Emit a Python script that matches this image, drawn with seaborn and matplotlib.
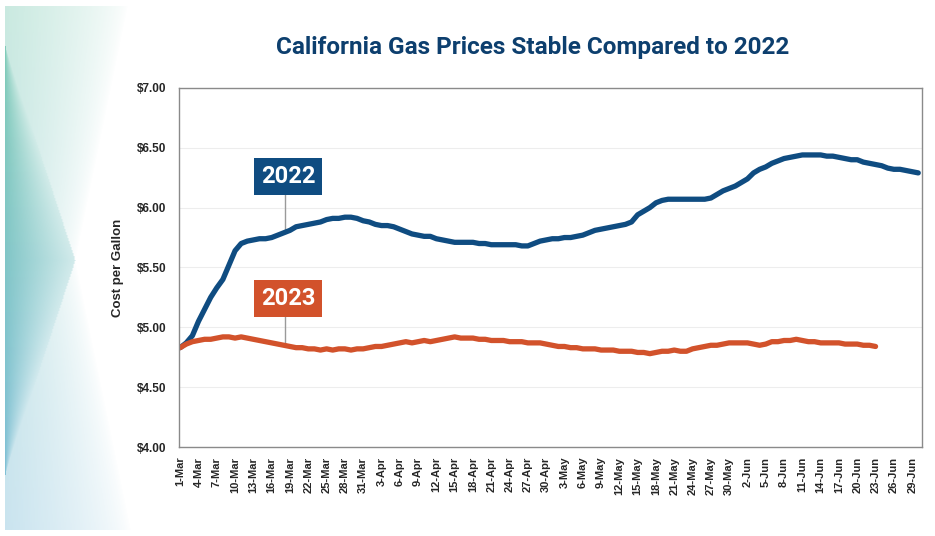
import numpy as np
import pandas as pd
import matplotlib
matplotlib.use("Agg")
import matplotlib.pyplot as plt
import seaborn as sns

# daily average price, index 0 = 1-Mar
PRICES_2022 = [
    4.83, 4.87, 4.93, 5.05, 5.15, 5.25, 5.33, 5.40, 5.52, 5.64,
    5.70, 5.72, 5.73, 5.74, 5.74, 5.75, 5.77, 5.79, 5.81, 5.84,
    5.85, 5.86, 5.87, 5.88, 5.90, 5.91, 5.91, 5.92, 5.92, 5.91,
    5.89, 5.88, 5.86, 5.85, 5.85, 5.84, 5.82, 5.80, 5.78, 5.77,
    5.76, 5.76, 5.74, 5.73, 5.72, 5.71, 5.71, 5.71, 5.71, 5.70,
    5.70, 5.69, 5.69, 5.69, 5.69, 5.69, 5.68, 5.68, 5.70, 5.72,
    5.73, 5.74, 5.74, 5.75, 5.75, 5.76, 5.77, 5.79, 5.81, 5.82,
    5.83, 5.84, 5.85, 5.86, 5.88, 5.94, 5.97, 6.00, 6.04, 6.06,
    6.07, 6.07, 6.07, 6.07, 6.07, 6.07, 6.07, 6.08, 6.11, 6.14,
    6.16, 6.18, 6.21, 6.24, 6.29, 6.32, 6.34, 6.37, 6.39, 6.41,
    6.42, 6.43, 6.44, 6.44, 6.44, 6.44, 6.43, 6.43, 6.42, 6.41,
    6.40, 6.40, 6.38, 6.37, 6.36, 6.35, 6.33, 6.32, 6.32, 6.31,
    6.30, 6.29,
]
PRICES_2023 = [
    4.83, 4.86, 4.88, 4.89, 4.90, 4.90, 4.91, 4.92, 4.92, 4.91,
    4.92, 4.91, 4.90, 4.89, 4.88, 4.87, 4.86, 4.85, 4.84, 4.83,
    4.83, 4.82, 4.82, 4.81, 4.82, 4.81, 4.82, 4.82, 4.81, 4.82,
    4.82, 4.83, 4.84, 4.84, 4.85, 4.86, 4.87, 4.88, 4.87, 4.88,
    4.89, 4.88, 4.89, 4.90, 4.91, 4.92, 4.91, 4.91, 4.91, 4.90,
    4.90, 4.89, 4.89, 4.89, 4.88, 4.88, 4.88, 4.87, 4.87, 4.87,
    4.86, 4.85, 4.84, 4.84, 4.83, 4.83, 4.82, 4.82, 4.82, 4.81,
    4.81, 4.81, 4.80, 4.80, 4.80, 4.79, 4.79, 4.78, 4.79, 4.80,
    4.80, 4.81, 4.80, 4.80, 4.82, 4.83, 4.84, 4.85, 4.85, 4.86,
    4.87, 4.87, 4.87, 4.87, 4.86, 4.85, 4.86, 4.88, 4.88, 4.89,
    4.89, 4.90, 4.89, 4.88, 4.88, 4.87, 4.87, 4.87, 4.87, 4.86,
    4.86, 4.86, 4.85, 4.85, 4.84,
]
TICK_LABELS = [
    "1-Mar", "4-Mar", "7-Mar", "10-Mar", "13-Mar", "16-Mar", "19-Mar",
    "22-Mar", "25-Mar", "28-Mar", "31-Mar", "3-Apr", "6-Apr", "9-Apr",
    "12-Apr", "15-Apr", "18-Apr", "21-Apr", "24-Apr", "27-Apr", "30-Apr",
    "3-May", "6-May", "9-May", "12-May", "15-May", "18-May", "21-May",
    "24-May", "27-May", "30-May", "2-Jun", "5-Jun", "8-Jun", "11-Jun",
    "14-Jun", "17-Jun", "20-Jun", "23-Jun", "26-Jun", "29-Jun",
]
Y_TICKS = [4.0, 4.5, 5.0, 5.5, 6.0, 6.5, 7.0]

BLUE = "#0f4c81"
ORANGE = "#d2522b"
TITLE_BLUE = "#0d3f6e"

sns.set_style("white")
plt.rcParams["font.family"] = ["Liberation Sans", "DejaVu Sans"]

df = pd.concat([
    pd.DataFrame({"day": range(len(PRICES_2022)), "price": PRICES_2022, "year": "2022"}),
    pd.DataFrame({"day": range(len(PRICES_2023)), "price": PRICES_2023, "year": "2023"}),
])

fig = plt.figure(figsize=(9.35, 5.36), dpi=100)

# decorative gradient panel on the left
deco = fig.add_axes([0.005, 0.0, 0.135, 1.0])
h, w = 536, 126
vv, uu = np.mgrid[0:h, 0:w]
u = uu / w
v = vv / h
top_col = np.array([0.45, 0.78, 0.68])
bot_col = np.array([0.45, 0.72, 0.84])
rgb = top_col[None, None, :] * (1 - v[..., None]) + bot_col[None, None, :] * v[..., None]
# outer light region bounded by (1,0)-(0.55,0.485)-(1,1)
bound_light = 0.55 + 0.45 * np.abs(v - 0.485) / 0.515
light = (u < bound_light) * 0.38 * np.clip(1 - u / bound_light, 0, 1) ** 0.7
# inner dark triangle (0,0.085)-(0.55,0.485)-(0,0.915)
bound_dark = 0.55 * (1 - np.abs(v - 0.485) / 0.40)
dark = (u < bound_dark) * 0.9 * np.clip(1 - 0.65 * u / np.maximum(bound_dark, 1e-3), 0, 1)
alpha = np.clip(np.maximum(light, dark), 0, 1)
alpha[:6, :] = 0
alpha[-6:, :] = 0
img = np.dstack([rgb, alpha])
deco.imshow(img, aspect="auto", interpolation="bilinear")
deco.axis("off")

ax = fig.add_axes([0.1914, 0.166, 0.7946, 0.670])
sns.lineplot(data=df, x="day", y="price", hue="year",
             palette={"2022": BLUE, "2023": ORANGE},
             linewidth=3.8, legend=False, ax=ax)

ax.set_xlim(-0.2, 121.6)
ax.set_ylim(4.0, 7.0)
ax.set_yticks(Y_TICKS)
ax.set_yticklabels([f"${t:.2f}" for t in Y_TICKS], fontsize=8.5, fontweight="bold")
ax.set_xticks(range(0, 3 * len(TICK_LABELS), 3))
ax.set_xticklabels(TICK_LABELS, rotation=90, fontsize=8, fontweight="bold")
ax.tick_params(axis="y", length=0, pad=9)
ax.tick_params(axis="x", length=0, pad=7)
ax.set_xlabel("")
ax.set_ylabel("Cost per Gallon", fontsize=9.5, fontweight="bold", labelpad=9)
ax.yaxis.grid(True, color="#ededed", linewidth=0.8)
ax.set_axisbelow(True)
for s in ax.spines.values():
    s.set_color("#8a8a8a")
    s.set_linewidth(1.0)

# year callouts
cond = ["Roboto", "Liberation Sans", "DejaVu Sans"]
for label, col, box_y, line_top, line_bot in [
    ("2022", BLUE, 6.26, 6.13, 5.80),
    ("2023", ORANGE, 5.24, 5.11, 4.84),
]:
    ax.plot([17.2, 17.2], [line_bot, line_top], color="#9a9a9a", linewidth=1.0, zorder=1)
    ax.text(17.7, box_y, label, ha="center", va="center", color="white",
            fontsize=17, fontweight="bold", family=cond,
            bbox=dict(boxstyle="square,pad=0.28", facecolor=col, edgecolor="none"))

fig.text(0.570, 0.912, "California Gas Prices Stable Compared to 2022",
         ha="center", va="center", color=TITLE_BLUE, fontsize=17.5,
         fontweight="bold", family=cond)

fig.savefig("out.png", dpi=100)
